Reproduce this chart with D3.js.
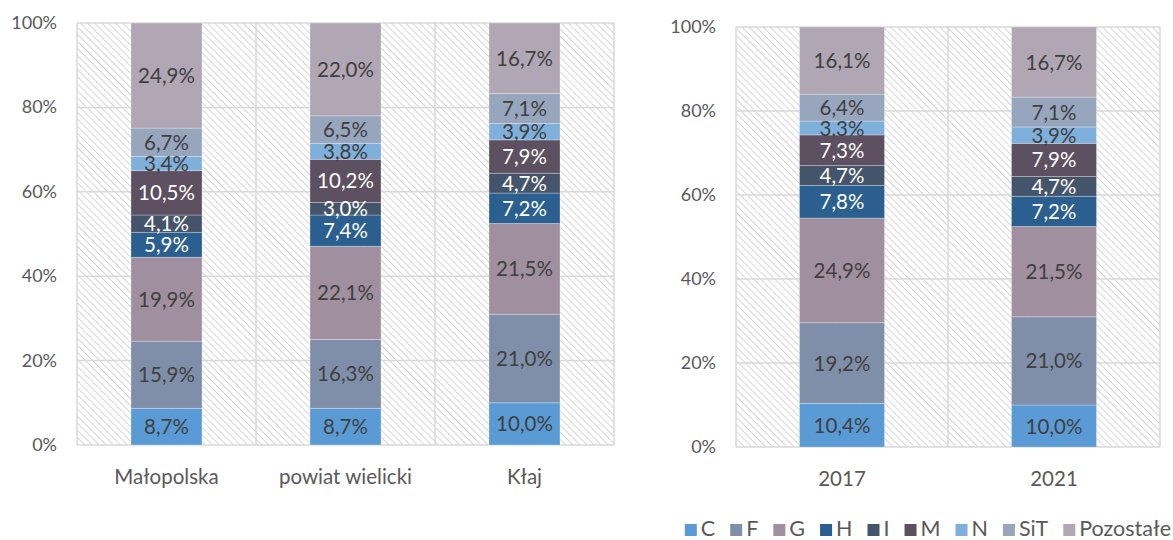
<!DOCTYPE html>
<html>
<head>
<meta charset="utf-8">
<script src="https://cdn.jsdelivr.net/npm/d3@7"></script>
<style>
  body { margin: 0; background: #fff; }
  svg text { font-family: Lato, "Noto Sans", sans-serif; }
</style>
</head>
<body>
<svg id="chart" width="1173" height="540"></svg>
<script>
// sectors, bottom to top
var sectors = ["C", "F", "G", "H", "I", "M", "N", "SiT", "Pozostałe"];
var colors  = ["#5b9bd5", "#7f8fa9", "#9f8f9f", "#2a5f8f", "#44546a", "#5d5061", "#7fb0dc", "#97a5bd", "#b1a6b3"];
var whiteText = ["H", "I", "M"];

var areas = ["Małopolska", "powiat wielicki", "Kłaj"];
var areaValues = [
  [8.7, 15.9, 19.9, 5.9, 4.1, 10.5, 3.4, 6.7, 24.9],
  [8.7, 16.3, 22.1, 7.4, 3.0, 10.2, 3.8, 6.5, 22.0],
  [10.0, 21.0, 21.5, 7.2, 4.7, 7.9, 3.9, 7.1, 16.7]
];

var years = ["2017", "2021"];
var yearValues = [
  [10.4, 19.2, 24.9, 7.8, 4.7, 7.3, 3.3, 6.4, 16.1],
  [10.0, 21.0, 21.5, 7.2, 4.7, 7.9, 3.9, 7.1, 16.7]
];

var yTicks = [0, 20, 40, 60, 80, 100];

var svg = d3.select("#chart");

// hatched background of the plot area
var defs = svg.append("defs");
var pat = defs.append("pattern")
  .attr("id", "hatch")
  .attr("patternUnits", "userSpaceOnUse")
  .attr("width", 5).attr("height", 5)
  .attr("patternTransform", "rotate(-45)");
pat.append("rect").attr("width", 5).attr("height", 5).attr("fill", "#fff");
pat.append("line")
  .attr("x1", 0).attr("y1", 0).attr("x2", 0).attr("y2", 5)
  .attr("stroke", "#d2d2d2").attr("stroke-width", 1.8);

function fmt(v) { return v.toFixed(1).replace(".", ",") + "%"; }

function drawPanel(cats, values, box) {
  var g = svg.append("g");
  var x = d3.scaleBand().domain(cats).range([box.left, box.right]).paddingInner(0).paddingOuter(0);
  var y = d3.scaleLinear().domain([0, 100]).range([box.bottom, box.top]);
  var barW = box.barW;

  g.append("rect")
    .attr("x", box.left).attr("y", box.top)
    .attr("width", box.right - box.left).attr("height", box.bottom - box.top)
    .attr("fill", "url(#hatch)");

  // horizontal gridlines
  g.selectAll(".grid").data(yTicks).enter().append("line")
    .attr("x1", box.left).attr("x2", box.right)
    .attr("y1", function(d) { return y(d); }).attr("y2", function(d) { return y(d); })
    .attr("stroke", "#d9d9d9").attr("stroke-width", 1.5);

  // vertical category borders
  var borders = [box.left].concat(cats.map(function(c) { return x(c) + x.bandwidth(); }));
  g.selectAll(".vgrid").data(borders).enter().append("line")
    .attr("x1", function(d) { return d; }).attr("x2", function(d) { return d; })
    .attr("y1", box.top).attr("y2", box.bottom)
    .attr("stroke", "#d9d9d9").attr("stroke-width", 1.5);

  // y tick labels
  g.selectAll(".ytick").data(yTicks).enter().append("text")
    .attr("x", box.left - 20)
    .attr("y", function(d) { return y(d) + 6; })
    .attr("text-anchor", "end")
    .attr("font-size", 18)
    .attr("fill", "#595959")
    .text(function(d) { return d + "%"; });

  // stacked bars
  cats.forEach(function(cat, ci) {
    var cum = 0;
    var cx = x(cat) + x.bandwidth() / 2;
    values[ci].forEach(function(v, si) {
      var y0 = cum, y1 = Math.min(cum + v, 100);
      cum += v;
      g.append("rect")
        .attr("x", cx - barW / 2)
        .attr("y", y(y1))
        .attr("width", barW)
        .attr("height", y(y0) - y(y1))
        .attr("fill", colors[si])
        .attr("stroke", "rgba(255,255,255,0.35)")
        .attr("stroke-width", 0.8);
    });
    cum = 0;
    values[ci].forEach(function(v, si) {
      var mid = cum + v / 2;
      cum += v;
      g.append("text")
        .attr("x", cx)
        .attr("y", y(mid) + 7.5)
        .attr("text-anchor", "middle")
        .attr("font-size", 20.5)
        .attr("fill", whiteText.indexOf(sectors[si]) >= 0 ? "#ffffff" : "#404040")
        .text(fmt(v));
    });
    g.append("text")
      .attr("x", cx)
      .attr("y", box.catY)
      .attr("text-anchor", "middle")
      .attr("font-size", 20.5)
      .attr("fill", "#595959")
      .text(cat);
  });
}

drawPanel(areas, areaValues, { left: 77, right: 614, top: 23, bottom: 445, barW: 71, catY: 484 });
drawPanel(years, yearValues, { left: 736, right: 1160, top: 27, bottom: 447, barW: 85, catY: 486 });

// legend, right aligned
var legend = svg.append("g");
var lx = 0;
sectors.forEach(function(s, i) {
  var item = legend.append("g").attr("transform", "translate(" + lx + ",0)");
  item.append("rect").attr("x", 0).attr("y", -12).attr("width", 12).attr("height", 12).attr("fill", colors[i]);
  var t = item.append("text").attr("x", 16).attr("y", 0)
    .attr("font-size", 21.5).attr("fill", "#595959").text(s);
  lx += 16 + t.node().getComputedTextLength() + 15;
});
var legendW = lx - 15;
legend.attr("transform", "translate(" + (1171 - legendW) + ",536)");
</script>
</body>
</html>
